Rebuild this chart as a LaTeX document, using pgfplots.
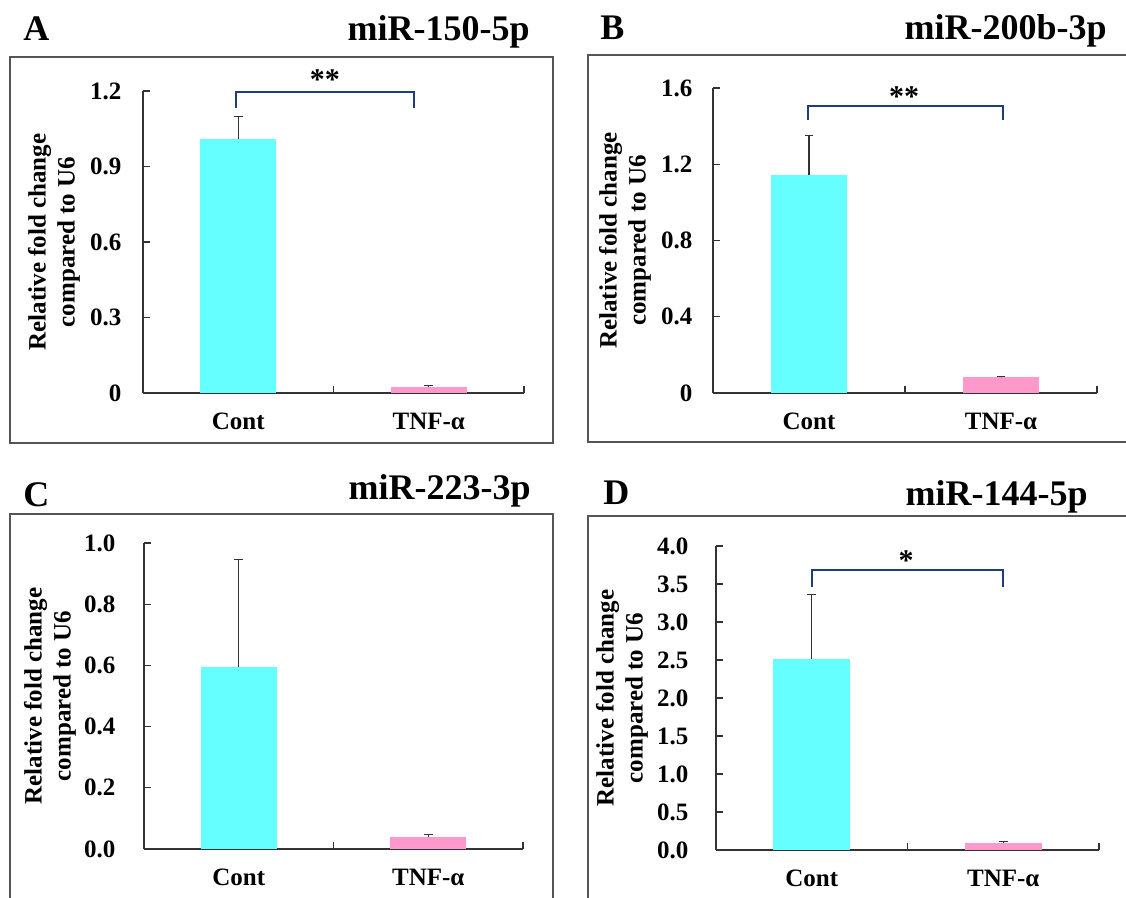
\documentclass[border=0pt]{standalone}
\usepackage{pgfplots}
\pgfplotsset{compat=1.18}
\usepackage{fontspec}
\setmainfont{Liberation Serif}
\definecolor{cyanbar}{HTML}{66FFFF}
\definecolor{pinkbar}{HTML}{FF99CC}
\definecolor{navy}{HTML}{1F3D7A}
\definecolor{boxgray}{HTML}{555555}
\definecolor{axgray}{HTML}{333333}

\newcommand\axfont{\bfseries\fontsize{12.5}{14.5}\selectfont}
\newcommand\ttlfont{\bfseries\fontsize{18}{21}\selectfont}

\pgfplotsset{
  panel/.style={
    scale only axis,
    anchor=south west,
    clip=false,
    axis x line=bottom, axis y line=left,
    axis line style={-, axgray, line width=0.6pt},
    every tick/.style={axgray, line width=0.6pt},
    tick align=inside,
    major tick length=3.5pt,
    xmin=0, xmax=2, ymin=0,
    xtick={0,1,2}, xticklabels={},
    extra x ticks={0.5,1.5},
    extra x tick labels={Cont,TNF-α},
    extra x tick style={major tick length=0pt, xticklabel style={yshift=-6.5pt}},
    ticklabel style={font=\axfont},
    /pgf/number format/assume math mode=true,
    ylabel={Relative fold change\\compared to U6},
    ylabel style={align=center, font=\axfont, anchor=center},
  },
  cbar/.style={ybar, bar width=0.4, bar shift=0pt, fill=cyanbar, draw=none,
    error bars/.cd, y dir=plus, y explicit,
    error bar style={axgray, line width=0.6pt},
    error mark options={rotate=90, mark size=2.2pt, line width=0.6pt, axgray}},
  pbar/.style={ybar, bar width=0.4, bar shift=0pt, fill=pinkbar, draw=none,
    error bars/.cd, y dir=plus, y explicit,
    error bar style={axgray, line width=0.6pt},
    error mark options={rotate=90, mark size=2.2pt, line width=0.6pt, axgray}},
}

\begin{document}
\begin{tikzpicture}
\useasboundingbox (0,0) rectangle (563pt,-449pt);

% frames
\draw[boxgray, line width=0.75pt] (5pt,-28.5pt) rectangle (276.5pt,-221.5pt);
\draw[boxgray, line width=0.75pt] (563pt,-27.5pt) -- (294pt,-27.5pt) -- (294pt,-221pt) -- (563pt,-221pt);
\draw[boxgray, line width=0.75pt] (5pt,-449pt) -- (5pt,-257pt) -- (276.5pt,-257pt) -- (276.5pt,-449pt);
\draw[boxgray, line width=0.75pt] (294pt,-449pt) -- (294pt,-258pt) -- (563pt,-258pt);

% letters and titles
\node[anchor=base west, font=\ttlfont, inner sep=0] at (11.5pt,-20.5pt) {A};
\node[anchor=base east, font=\ttlfont, inner sep=0] at (265pt,-20.5pt) {miR-150-5p};
\node[anchor=base west, font=\ttlfont, inner sep=0] at (300pt,-20pt) {B};
\node[anchor=base east, font=\ttlfont, inner sep=0] at (553.5pt,-19.75pt) {miR-200b-3p};
\node[anchor=base west, font=\ttlfont, inner sep=0] at (11.5pt,-253.5pt) {C};
\node[anchor=base east, font=\ttlfont, inner sep=0] at (265.5pt,-250pt) {miR-223-3p};
\node[anchor=base west, font=\ttlfont, inner sep=0] at (301.5pt,-252.5pt) {D};
\node[anchor=base east, font=\ttlfont, inner sep=0] at (544pt,-253pt) {miR-144-5p};

% Panel A
\begin{axis}[panel, at={(71.5pt,-196.5pt)}, width=190.5pt, height=151pt,
  ymax=1.2, ytick={0,0.3,0.6,0.9,1.2},
  yticklabel style={xshift=-7.3pt, /pgf/number format/.cd, fixed, precision=1},
  ylabel style={at={([xshift=-44.5pt]axis description cs:0,0.5)}}]
\addplot[cbar] coordinates {(0.5,1.01) +- (0,0.088)};
\addplot[pbar] coordinates {(1.5,0.022) +- (0,0.008)};
\draw[navy, line width=1pt] (axis cs:0.49,1.131) -- (axis cs:0.49,1.197) -- (axis cs:1.42,1.197) -- (axis cs:1.42,1.131);
\node[font=\bfseries\fontsize{15}{18}\selectfont, anchor=base, yshift=-7pt, inner sep=0] at (axis cs:0.955,1.26) {**};
\end{axis}

% Panel B
\begin{axis}[panel, at={(356.5pt,-196.5pt)}, width=192pt, height=152.5pt,
  ymax=1.6, ytick={0,0.4,0.8,1.2,1.6},
  yticklabel style={xshift=-6.8pt, /pgf/number format/.cd, fixed, precision=1},
  ylabel style={at={([xshift=-44pt]axis description cs:0,0.5)}}]
\addplot[cbar] coordinates {(0.5,1.143) +- (0,0.209)};
\addplot[pbar] coordinates {(1.5,0.082) +- (0,0.005)};
\draw[navy, line width=1pt] (axis cs:0.496,1.434) -- (axis cs:0.496,1.504) -- (axis cs:1.508,1.504) -- (axis cs:1.508,1.434);
\node[font=\bfseries\fontsize{15}{18}\selectfont, anchor=base, yshift=-7pt, inner sep=0] at (axis cs:0.996,1.575) {**};
\end{axis}

% Panel C
\begin{axis}[panel, at={(72pt,-424.5pt)}, width=189.5pt, height=153pt,
  ymax=1.0, ytick={0,0.2,0.4,0.6,0.8,1.0},
  yticklabel style={xshift=-10.8pt, /pgf/number format/.cd, fixed, fixed zerofill, precision=1},
  ylabel style={at={([xshift=-47pt]axis description cs:0,0.5)}}]
\addplot[cbar] coordinates {(0.5,0.595) +- (0,0.35)};
\addplot[pbar] coordinates {(1.5,0.038) +- (0,0.010)};
\end{axis}

% Panel D
\begin{axis}[panel, at={(358pt,-425pt)}, width=191.5pt, height=152pt,
  ymax=4.0, ytick={0,0.5,1.0,1.5,2.0,2.5,3.0,3.5,4.0},
  yticklabel style={xshift=-10.3pt, /pgf/number format/.cd, fixed, fixed zerofill, precision=1},
  ylabel style={at={([xshift=-47pt]axis description cs:0,0.5)}}]
\addplot[cbar] coordinates {(0.5,2.515) +- (0,0.845)};
\addplot[pbar] coordinates {(1.5,0.092) +- (0,0.022)};
\draw[navy, line width=1pt] (axis cs:0.50,3.461) -- (axis cs:0.50,3.689) -- (axis cs:1.50,3.689) -- (axis cs:1.50,3.461);
\node[font=\bfseries\fontsize{15}{18}\selectfont, anchor=base, yshift=-7pt, inner sep=0] at (axis cs:0.993,3.86) {*};
\end{axis}
\end{tikzpicture}
\end{document}
